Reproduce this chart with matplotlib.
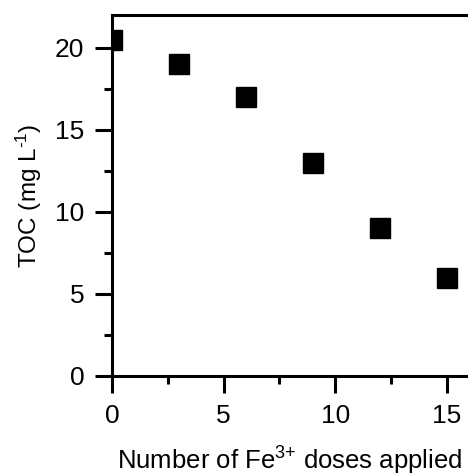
import matplotlib
matplotlib.use('Agg')
import matplotlib.pyplot as plt
import matplotlib.ticker as ticker

doses = [0, 3, 6, 9, 12, 15]
toc = [20.5, 19, 17, 13, 9, 6]

plt.rcParams['font.family'] = ['Liberation Sans', 'DejaVu Sans']
plt.rcParams['mathtext.fontset'] = 'custom'
plt.rcParams['mathtext.rm'] = 'Liberation Sans'
plt.rcParams['mathtext.it'] = 'Liberation Sans'
plt.rcParams['mathtext.default'] = 'regular'

fig = plt.figure(figsize=(4.68, 4.74), dpi=100)
ax = fig.add_axes([0.2393, 0.2068, 0.7607, 0.7616])

ax.plot(doses, toc, 's', color='black', markersize=14.5, clip_on=True)

ax.set_xlim(0, 15.94)
ax.set_ylim(0, 22)
ax.xaxis.set_major_locator(ticker.MultipleLocator(5))
ax.xaxis.set_minor_locator(ticker.MultipleLocator(2.5))
ax.yaxis.set_major_locator(ticker.MultipleLocator(5))
ax.yaxis.set_minor_locator(ticker.MultipleLocator(2.5))

ax.spines['right'].set_visible(False)
for side in ['left', 'top', 'bottom']:
    ax.spines[side].set_linewidth(2.2)

ax.tick_params(which='major', direction='out', length=12, width=2.2,
               labelsize=19, pad=8)
ax.tick_params(which='minor', direction='out', length=6, width=2.2)

ax.set_xlabel('Number of Fe$^{3{+}}$ doses applied', fontsize=18.5, labelpad=12)
ax.set_ylabel(r'TOC (mg L$^{\text{-}1}$)', fontsize=17.5, labelpad=8)

fig.savefig('out.png', dpi=100)
